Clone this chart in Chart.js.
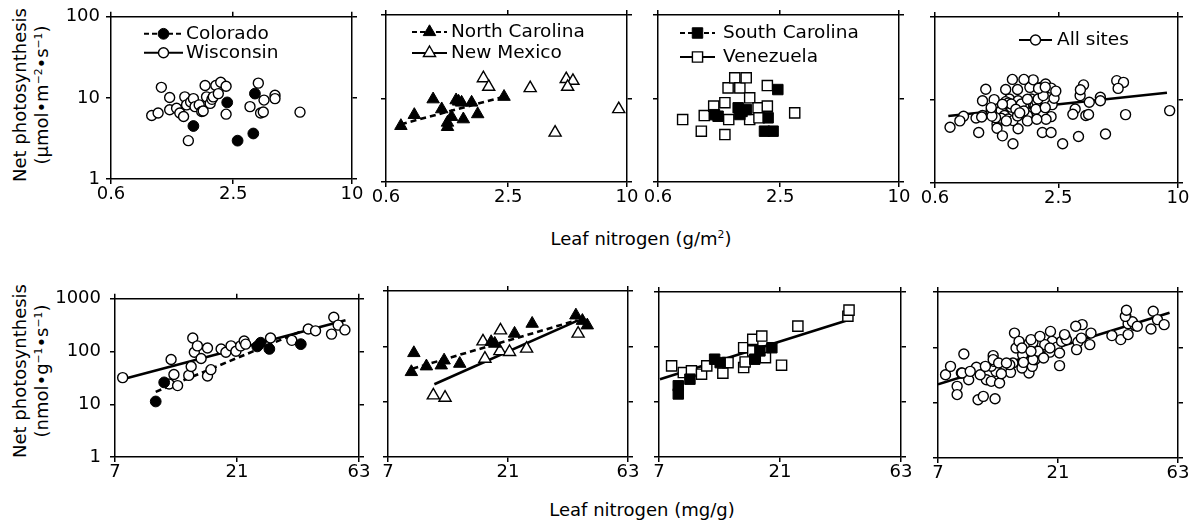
<!DOCTYPE html>
<html lang="en">
<head>
<meta charset="UTF-8">
<title>Leaf nitrogen vs net photosynthesis</title>
<script src="https://cdn.jsdelivr.net/npm/chart.js"></script>
<style>
  body { margin: 0; background: #fff; }
  #fig { position: relative; width: 1195px; height: 527px; font-family: "DejaVu Sans", sans-serif; color: #000; overflow: hidden; }
  #fig canvas { position: absolute; }
  .xtitle { position: absolute; font-size: 18px; white-space: nowrap; transform: translate(-50%, -50%); }
  .ytitle { position: absolute; font-size: 18px; white-space: nowrap; line-height: 22px; text-align: center;
            transform: translate(-50%, -50%) rotate(-90deg); }
  sup { font-size: 0.6em; vertical-align: 0.6em; line-height: 0; }
</style>
</head>
<body>
<div id="fig">
  <div class="ytitle" style="left:31px; top:95px">Net photosynthesis<br>(µmol•m<sup>−2</sup>•s<sup>−1</sup>)</div>
  <div class="xtitle" style="left:641px; top:238px">Leaf nitrogen (g/m<sup>2</sup>)</div>
  <div class="ytitle" style="left:31px; top:371px">Net photosynthesis<br>(nmol•g<sup>−1</sup>•s<sup>−1</sup>)</div>
  <div class="xtitle" style="left:642px; top:509px">Leaf nitrogen (mg/g)</div>
</div>
<script>
  // tick labels
  const areaTicksX = [0.6, 2.5, 10];
  const areaTicksY = [1, 10, 100];
  const massTicksX = [7, 21, 63];
  const massTicksY = [1, 10, 100, 1000];

  // area basis: [leaf N g/m2, net photosynthesis umol/m2/s]
  const coloradoArea = [[1.57, 4.5], [2.33, 8.8], [2.63, 2.97], [3.16, 3.64], [3.22, 11.3]];
  const wisconsinArea = [[0.965, 6.08], [1.04, 6.5], [1.08, 13.5], [1.19, 10.1], [1.19, 7.13], [1.29, 7.45],
    [1.34, 6.5], [1.40, 5.9], [1.42, 10.3], [1.45, 8.2], [1.48, 2.97], [1.52, 8.9], [1.57, 9.8], [1.60, 7.8],
    [1.68, 8.2], [1.73, 6.8], [1.76, 6.9], [1.80, 14.2], [1.83, 10.3], [1.91, 8.55], [1.95, 9.6], [1.98, 10.3],
    [2.04, 14.2], [2.10, 11.3], [2.16, 15.6], [2.30, 13.9], [2.30, 6.3], [3.04, 7.8], [3.35, 15.2], [3.58, 9.4],
    [3.44, 6.5], [3.55, 6.7], [4.07, 10.8], [4.07, 9.8], [5.45, 6.67]];
  const northCarolinaArea = [[0.714, 4.7], [0.835, 6.37], [1.04, 9.8], [1.15, 7.45], [1.23, 5.15], [1.23, 4.57],
    [1.29, 6.03], [1.36, 9.55], [1.40, 9.2], [1.45, 8.95], [1.48, 5.65], [1.63, 8.95], [1.75, 6.5], [2.38, 10.5]];
  const newMexicoArea = [[1.87, 17.5], [1.99, 13.8], [3.23, 13.3], [4.32, 3.9], [4.92, 17.1], [5.32, 16.3],
    [5.0, 13.8], [9.08, 7.45]];
  const southCarolinaArea = [[2.43, 12.8], [1.53, 7.74], [1.56, 6.43], [1.21, 6.13], [2.17, 5.87], [2.08, 4.06],
    [2.30, 4.06], [1.68, 7.38], [1.16, 6.4], [1.60, 7.0]];
  const venezuelaArea = [[0.80, 5.6], [0.995, 4.06], [1.03, 6.25], [1.15, 8.1], [1.31, 8.9], [1.31, 3.7],
    [1.36, 13.4], [1.37, 5.6], [1.47, 17.7], [1.56, 13.4], [1.68, 17.7], [1.75, 10.2], [1.75, 5.6], [1.93, 7.74],
    [1.95, 5.87], [2.15, 14.3], [2.15, 8.1], [2.96, 6.73]];
  const allSitesArea = [].concat(coloradoArea, wisconsinArea, northCarolinaArea, newMexicoArea,
    southCarolinaArea, venezuelaArea);
  // fitted lines, end points
  const northCarolinaAreaFit = [[0.714, 4.92], [2.41, 10.6]];
  const allSitesAreaFit = [[0.70, 6.43], [8.8, 12.2]];

  // mass basis: [leaf N mg/g, net photosynthesis nmol/g/s]
  const coloradoMass = [[10.1, 11.3], [10.9, 26], [25.2, 125], [26, 147], [28.1, 112], [37.3, 138]];
  const wisconsinMass = [[7.5, 32], [11.6, 70.8], [11.9, 36.8], [11.4, 24.3], [12.3, 22.6], [13.6, 35.3],
    [13.9, 52], [14.1, 181], [14.3, 97], [14.7, 128], [15.2, 73.8], [16.1, 117], [16.1, 34.3], [16.6, 45.3],
    [18.2, 112], [19.0, 97], [19.9, 128], [20.8, 101], [21.7, 128], [22.4, 158], [22.7, 138], [28.4, 181],
    [34.4, 163], [39.9, 268], [42.6, 247], [50.2, 448], [49.2, 214], [52.2, 317], [55.5, 257]];
  const northCarolinaMass = [[8.67, 34.4], [8.87, 75.8], [9.95, 43.6], [11.4, 45.4], [11.7, 55.8], [13.5, 48.6],
    [18.0, 120], [18.6, 112], [22.3, 170], [26.2, 257], [39.1, 363], [41.5, 290], [43.4, 240]];
  const newMexicoMass = [[10.6, 13.0], [11.8, 11.8], [16.7, 123], [17.0, 59.8], [19.6, 194], [19.5, 82],
    [21.3, 79], [24.9, 91], [39.9, 170]];
  const southCarolinaMass = [[8.34, 19.7], [8.34, 14.0], [9.27, 26], [11.6, 60], [12.2, 52], [16.7, 60],
    [17.5, 85], [19.5, 97]];
  const venezuelaMass = [[7.85, 45.3], [8.73, 34.3], [9.4, 36.8], [10.3, 32], [10.8, 45.3], [12.5, 33.4],
    [13.1, 52], [15.1, 97], [15.1, 42.3], [15.3, 53.5], [16.4, 138], [16.4, 85], [17.8, 158], [18.4, 64],
    [21.3, 46.7], [24.7, 240], [38.9, 363], [39.3, 468]];
  const allSitesMass = [].concat(coloradoMass, wisconsinMass, northCarolinaMass, newMexicoMass,
    southCarolinaMass, venezuelaMass);
  const coloradoMassFit = [[10.1, 17.2], [37.3, 240]];
  const wisconsinMassFit = [[7.5, 29.9], [55.8, 390]];
  const northCarolinaMassFit = [[8.75, 39.4], [39.4, 295]];
  const newMexicoMassFit = [[10.7, 20.6], [39.9, 295]];
  const venezuelaMassFit = [[7.06, 26], [39.6, 316]];
  const allSitesMassFit = [[7.0, 21.5], [58.3, 420]];

  Chart.defaults.font.family = '"DejaVu Sans", sans-serif';

  const FILL = '#000', OPEN = '#fff';
  const marker = (style, r, fill, bw) => ({ pointStyle: style, pointRadius: r, pointBackgroundColor: fill,
    pointBorderColor: '#000', pointBorderWidth: bw, showLine: false });
  const filledCircle = marker('circle', 5.4, FILL, 1);
  const openCircle = marker('circle', 5.0, OPEN, 1.4);
  const filledTri = marker('triangle', 7.2, FILL, 1);
  const openTri = marker('triangle', 7.0, OPEN, 1.4);
  const filledSq = marker('rect', 7.4, FILL, 1);
  const openSq = marker('rect', 7.2, OPEN, 1.4);

  const xy = arr => arr.map(p => ({ x: p[0], y: p[1] }));
  const pts = (label, arr, style) => Object.assign({ label: label, data: xy(arr), order: 0 }, style);
  const fit = (arr, dash) => ({ data: xy(arr), showLine: true, pointRadius: 0, borderColor: '#000',
    borderWidth: 2.6, borderDash: dash, order: 1, fill: false });

  // legend drawn inside the plot box: line sample + marker + name
  const insetLegend = {
    id: 'insetLegend',
    afterDatasetsDraw(chart, args, opts) {
      if (!opts.items) return;
      const ctx = chart.ctx, area = chart.chartArea;
      ctx.save();
      opts.items.forEach((it, i) => {
        const ds = chart.data.datasets[it.ds];
        const x = area.left + opts.x, y = area.top + opts.y + i * opts.dy;
        ctx.beginPath();
        ctx.setLineDash(it.dash || []);
        ctx.lineWidth = 2;
        ctx.strokeStyle = '#000';
        ctx.moveTo(x, y);
        ctx.lineTo(x + opts.len, y);
        ctx.stroke();
        ctx.setLineDash([]);
        ctx.fillStyle = ds.pointBackgroundColor;
        ctx.strokeStyle = ds.pointBorderColor;
        ctx.lineWidth = ds.pointBorderWidth;
        Chart.helpers.drawPoint(ctx, { pointStyle: ds.pointStyle, radius: ds.pointRadius,
          borderWidth: ds.pointBorderWidth, rotation: 0 }, x + opts.len / 2, y);
        ctx.fillStyle = '#000';
        ctx.font = '18.5px "DejaVu Sans"';
        ctx.textBaseline = 'middle';
        ctx.textAlign = 'left';
        ctx.fillText(ds.label, x + opts.len + opts.gap, y);
      });
      ctx.restore();
    }
  };

  const fig = document.getElementById('fig');

  function makePanel(box, ticksX, ticksY, yLabelPad, datasets, legend) {
    const ML = yLabelPad ? 62 : 22, MR = 18, MT = 12, MB = 36;
    const c = document.createElement('canvas');
    c.width = box[2] - box[0] + ML + MR;
    c.height = box[3] - box[1] + MT + MB;
    c.style.left = (box[0] - ML) + 'px';
    c.style.top = (box[1] - MT) + 'px';
    fig.appendChild(c);

    const axis = (pos, ticks, size, showLabels, pad) => ({
      type: 'logarithmic',
      position: pos,
      min: ticks[0],
      max: ticks[ticks.length - 1],
      afterBuildTicks: s => { s.ticks = ticks.map(v => ({ value: v })); },
      afterFit: s => { if (s.isHorizontal()) s.height = size; else s.width = size; },
      grid: { drawOnChartArea: false, tickLength: 5, color: '#000', lineWidth: 1.5 },
      border: { color: '#000', width: 1.5 },
      ticks: { display: showLabels, autoSkip: false, maxRotation: 0, color: '#000', padding: pad,
        font: { size: 18 }, callback: v => String(v) }
    });

    datasets.forEach(d => { d.xAxisID = 'x'; d.yAxisID = 'y'; });

    return new Chart(c, {
      type: 'scatter',
      data: { datasets: datasets },
      plugins: [insetLegend],
      options: {
        responsive: false,
        animation: false,
        events: [],
        layout: { padding: 0 },
        scales: {
          x: axis('bottom', ticksX, MB, true, 0),
          xTop: axis('top', ticksX, MT, false, 0),
          y: axis('left', ticksY, ML, !!yLabelPad, yLabelPad || 0),
          yRight: axis('right', ticksY, MR, false, 0)
        },
        plugins: {
          legend: { display: false },
          tooltip: { enabled: false },
          insetLegend: legend || {}
        }
      }
    });
  }

  const dashed = [6, 4];
  const topBoxes = [[111, 12, 352, 179], [386, 15, 627, 182], [658, 15, 899, 182], [935, 17, 1178, 183]];
  const botBoxes = [[115, 291, 359, 457], [388, 291, 628, 457], [659, 292, 901, 457], [938, 292, 1178, 458]];

  // top row: area basis
  makePanel(topBoxes[0], areaTicksX, areaTicksY, 6, [
    pts('Colorado', coloradoArea, filledCircle),
    pts('Wisconsin', wisconsinArea, openCircle)
  ], { x: 33, len: 39, gap: 3, y: 17, dy: 19, items: [{ ds: 0, dash: [5, 3] }, { ds: 1 }] });

  makePanel(topBoxes[1], areaTicksX, areaTicksY, 0, [
    pts('North Carolina', northCarolinaArea, filledTri),
    pts('New Mexico', newMexicoArea, openTri),
    fit(northCarolinaAreaFit, dashed)
  ], { x: 26, len: 35, gap: 4, y: 17, dy: 21, items: [{ ds: 0, dash: [5, 3] }, { ds: 1 }] });

  makePanel(topBoxes[2], areaTicksX, areaTicksY, 0, [
    pts('South Carolina', southCarolinaArea, filledSq),
    pts('Venezuela', venezuelaArea, openSq)
  ], { x: 22, len: 35, gap: 8, y: 18, dy: 24, items: [{ ds: 0, dash: [5, 3] }, { ds: 1 }] });

  makePanel(topBoxes[3], areaTicksX, areaTicksY, 0, [
    pts('All sites', allSitesArea, openCircle),
    fit(allSitesAreaFit, [])
  ], { x: 84, len: 33, gap: 5, y: 23, dy: 0, items: [{ ds: 0 }] });

  // bottom row: mass basis
  makePanel(botBoxes[0], massTicksX, massTicksY, 9, [
    pts('Colorado', coloradoMass, filledCircle),
    pts('Wisconsin', wisconsinMass, openCircle),
    fit(coloradoMassFit, dashed),
    fit(wisconsinMassFit, [])
  ]);

  makePanel(botBoxes[1], massTicksX, massTicksY, 0, [
    pts('North Carolina', northCarolinaMass, filledTri),
    pts('New Mexico', newMexicoMass, openTri),
    fit(northCarolinaMassFit, dashed),
    fit(newMexicoMassFit, [])
  ]);

  makePanel(botBoxes[2], massTicksX, massTicksY, 0, [
    pts('South Carolina', southCarolinaMass, filledSq),
    pts('Venezuela', venezuelaMass, openSq),
    fit(venezuelaMassFit, [])
  ]);

  makePanel(botBoxes[3], massTicksX, massTicksY, 0, [
    pts('All sites', allSitesMass, openCircle),
    fit(allSitesMassFit, [])
  ]);
</script>
</body>
</html>
